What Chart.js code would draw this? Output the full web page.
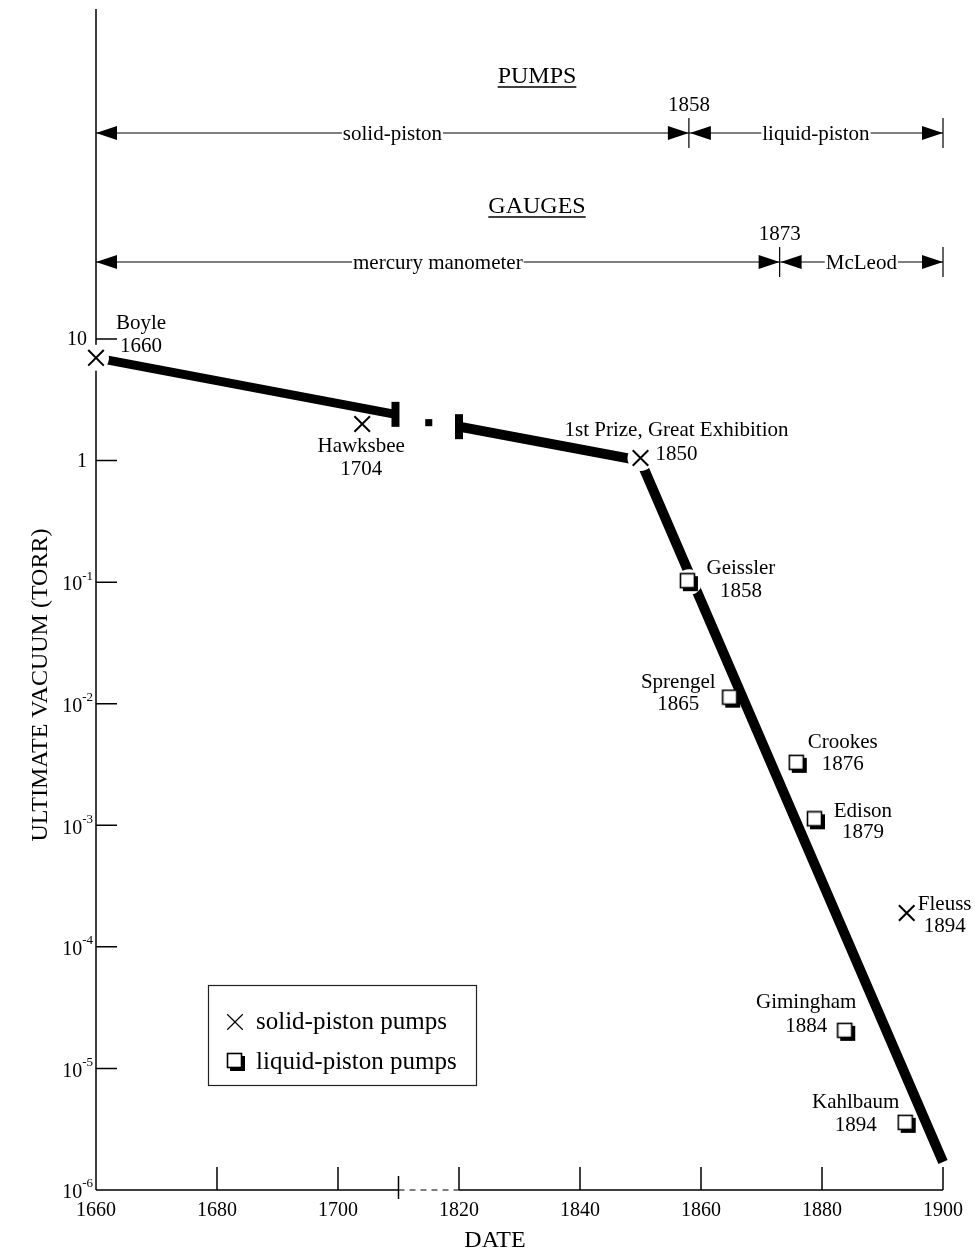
<!DOCTYPE html>
<html>
<head>
<meta charset="utf-8">
<script src="https://cdn.jsdelivr.net/npm/chart.js@4.4.0/dist/chart.umd.min.js"></script>
<style>
  body { margin: 0; background: #fff; }
  canvas { display: block; }
</style>
</head>
<body>
<canvas id="vacuumChart" width="975" height="1258"></canvas>
<script>
// Solid-piston pumps (crosses)
const solidNames = ['Boyle', 'Hawksbee', '1st Prize, Great Exhibition', 'Fleuss'];
const solidYears = [1660, 1704, 1850, 1894];
const solidVacuum = [7, 2.0, 1.05, 1.9e-4];

// Liquid-piston pumps (squares)
const liquidNames = ['Geissler', 'Sprengel', 'Crookes', 'Edison', 'Gimingham', 'Kahlbaum'];
const liquidYears = [1858, 1865, 1876, 1879, 1884, 1894];
const liquidVacuum = [0.1, 0.011, 3.2e-3, 1.1e-3, 2.0e-5, 3.5e-6];

// Thick trend line, broken across the time gap
const earlyYears = [1660, 1709.5];
const earlyVacuum = [7, 2.4];
const lateYears = [1820, 1850, 1900];
const lateVacuum = [1.9, 1.0, 1.7e-6];
const gapDotYear = [1815];
const gapDotVacuum = [2.05];

// Periods shown above the plot
const pumpPeriods = ['solid-piston', 'liquid-piston'];
const pumpBounds = [1660, 1858, 1900];
const gaugePeriods = ['mercury manometer', 'McLeod'];
const gaugeBounds = [1660, 1873, 1900];

// Axes
const tickYears = [1660, 1680, 1700, 1820, 1840, 1860, 1880, 1900];
const yTickValues = [10, 1, 1e-1, 1e-2, 1e-3, 1e-4, 1e-5, 1e-6];
const breakFrom = 1710;
const breakTo = 1810;

// where each point label sits relative to its marker: [dx, dy name, dy year]
const labelLayout = {
  'Boyle': [45, -34, -11],
  'Hawksbee': [-1, 23, 46],
  '1st Prize, Great Exhibition': [36, -28, -4],
  'Fleuss': [38, -8, 14],
  'Geissler': [52, -14, 9],
  'Sprengel': [-53, -16, 6],
  'Crookes': [45, -21, 1],
  'Edison': [47, -9, 12],
  'Gimingham': [-40, -29, -5],
  'Kahlbaum': [-51, -21, 2]
};

const FONT = '"Liberation Serif", "Times New Roman", serif';

// the axis skips the years between breakFrom and breakTo
function compress(year) {
  return year >= breakTo ? year - (breakTo - breakFrom) : year;
}

function toPoints(years, values) {
  return years.map((yr, i) => ({ x: compress(yr), y: values[i] }));
}

// open square with a drop shadow
function makeSquareIcon() {
  let c = document.createElement('canvas');
  c.width = 20;
  c.height = 20;
  let g = c.getContext('2d');
  g.fillStyle = '#000';
  g.fillRect(4, 4, 15, 15);
  g.fillStyle = '#fff';
  g.fillRect(1, 1, 15, 15);
  g.strokeStyle = '#000';
  g.lineWidth = 1.6;
  g.strokeRect(1.5, 1.5, 14, 14);
  return c;
}
const squareIcon = makeSquareIcon();

const crossStyle = { pointStyle: 'crossRot', radius: 11, borderWidth: 2, rotation: 0 };
const squareStyle = { pointStyle: squareIcon, radius: 10, borderWidth: 0, rotation: 0 };

function drawArrow(ctx, tipX, y, dir) {
  // dir = 1 points right, -1 points left
  ctx.beginPath();
  ctx.moveTo(tipX, y);
  ctx.lineTo(tipX - dir * 21, y - 7);
  ctx.lineTo(tipX - dir * 21, y + 7);
  ctx.closePath();
  ctx.fill();
}

function drawPeriodRow(ctx, chart, heading, headingY, names, bounds, y) {
  let xs = bounds.map(b => chart.scales.x.getPixelForValue(compress(b)));
  let headingX = 537;

  ctx.font = `24px ${FONT}`;
  ctx.textAlign = 'center';
  ctx.textBaseline = 'middle';
  ctx.fillText(heading, headingX, headingY);
  let hw = ctx.measureText(heading).width;
  ctx.lineWidth = 1.5;
  ctx.beginPath();
  ctx.moveTo(headingX - hw / 2, headingY + 10);
  ctx.lineTo(headingX + hw / 2, headingY + 10);
  ctx.stroke();

  ctx.lineWidth = 1.2;
  ctx.beginPath();
  ctx.moveTo(xs[0], y);
  ctx.lineTo(xs[2], y);
  ctx.moveTo(xs[1], y - 15);
  ctx.lineTo(xs[1], y + 15);
  ctx.moveTo(xs[2], y - 15);
  ctx.lineTo(xs[2], y + 15);
  ctx.stroke();

  drawArrow(ctx, xs[0], y, -1);
  drawArrow(ctx, xs[1], y, 1);
  drawArrow(ctx, xs[1] + 1, y, -1);
  drawArrow(ctx, xs[2], y, 1);

  ctx.font = `21px ${FONT}`;
  ctx.fillText(String(bounds[1]), xs[1], y - 28);

  names.forEach((name, i) => {
    let cx = (xs[i] + xs[i + 1]) / 2;
    let w = ctx.measureText(name).width;
    ctx.fillStyle = '#fff';
    ctx.fillRect(cx - w / 2 - 1, y - 3, w + 2, 6);
    ctx.fillStyle = '#000';
    ctx.fillText(name, cx, y + 1);
  });
}

const axesPlugin = {
  id: 'axesPlugin',
  beforeDatasetsDraw(chart) {
    let ctx = chart.ctx;
    let area = chart.chartArea;
    let xs = chart.scales.x;
    let ys = chart.scales.y;
    ctx.save();
    ctx.strokeStyle = '#000';
    ctx.lineWidth = 1.5;

    // y axis runs all the way up past the period rows
    ctx.beginPath();
    ctx.moveTo(area.left, 9);
    ctx.lineTo(area.left, area.bottom);
    yTickValues.forEach(v => {
      let y = ys.getPixelForValue(v);
      ctx.moveTo(area.left, y);
      ctx.lineTo(area.left + 21, y);
    });
    tickYears.forEach(yr => {
      let x = xs.getPixelForValue(compress(yr));
      ctx.moveTo(x, area.bottom);
      ctx.lineTo(x, area.bottom - 23);
    });
    let xBreak = xs.getPixelForValue(breakFrom);
    let xResume = xs.getPixelForValue(compress(1820));
    ctx.moveTo(xBreak, area.bottom - 14);
    ctx.lineTo(xBreak, area.bottom + 9);
    ctx.moveTo(area.left, area.bottom);
    ctx.lineTo(xBreak, area.bottom);
    ctx.moveTo(xResume, area.bottom);
    ctx.lineTo(area.right, area.bottom);
    ctx.stroke();

    ctx.setLineDash([6, 5]);
    ctx.lineWidth = 1.2;
    ctx.beginPath();
    ctx.moveTo(xBreak, area.bottom);
    ctx.lineTo(xResume, area.bottom);
    ctx.stroke();
    ctx.restore();
  },
  afterDatasetsDraw(chart) {
    let ctx = chart.ctx;
    let area = chart.chartArea;
    let xs = chart.scales.x;
    let ys = chart.scales.y;
    ctx.save();
    ctx.fillStyle = '#000';
    ctx.strokeStyle = '#000';
    ctx.textBaseline = 'middle';

    // x tick labels
    ctx.font = `20px ${FONT}`;
    ctx.textAlign = 'center';
    tickYears.forEach(yr => {
      ctx.fillText(String(yr), xs.getPixelForValue(compress(yr)), area.bottom + 21);
    });

    // y tick labels as powers of ten
    yTickValues.forEach(v => {
      let y = ys.getPixelForValue(v);
      let p = Math.round(Math.log10(v));
      if (p >= 0) {
        ctx.font = `20px ${FONT}`;
        ctx.textAlign = 'right';
        ctx.fillText(p === 0 ? '1' : '10', area.left - 9, y + 1);
      } else {
        let exp = String(p);
        ctx.font = `13px ${FONT}`;
        let ew = ctx.measureText(exp).width;
        ctx.textAlign = 'left';
        ctx.fillText(exp, area.left - 3 - ew, y - 6);
        ctx.font = `20px ${FONT}`;
        ctx.textAlign = 'right';
        ctx.fillText('10', area.left - 3 - ew, y + 3);
      }
    });

    // axis titles
    ctx.font = `24px ${FONT}`;
    ctx.textAlign = 'center';
    ctx.fillText('DATE', 495, 1241);
    ctx.save();
    ctx.translate(41, 685);
    ctx.rotate(-Math.PI / 2);
    ctx.fillText('ULTIMATE VACUUM (TORR)', 0, 0);
    ctx.restore();

    // point labels: name over year
    ctx.font = `21px ${FONT}`;
    let labelSets = [[solidNames, solidYears, solidVacuum], [liquidNames, liquidYears, liquidVacuum]];
    labelSets.forEach(([names, years, values]) => {
      names.forEach((name, i) => {
        let lay = labelLayout[name];
        let px = xs.getPixelForValue(compress(years[i]));
        let py = ys.getPixelForValue(values[i]);
        ctx.fillText(name, px + lay[0], py + lay[1]);
        ctx.fillText(String(years[i]), px + lay[0], py + lay[2]);
      });
    });

    // period rows at the top
    drawPeriodRow(ctx, chart, 'PUMPS', 77, pumpPeriods, pumpBounds, 133);
    drawPeriodRow(ctx, chart, 'GAUGES', 207, gaugePeriods, gaugeBounds, 262);

    // legend box
    ctx.lineWidth = 1.2;
    ctx.strokeStyle = '#222';
    ctx.strokeRect(208.5, 985.5, 268, 100);
    ctx.strokeStyle = '#000';
    ctx.fillStyle = '#000';
    Chart.helpers.drawPoint(ctx, crossStyle, 235, 1022);
    Chart.helpers.drawPoint(ctx, squareStyle, 236, 1062);
    ctx.font = `25px ${FONT}`;
    ctx.textAlign = 'left';
    ctx.fillText('solid-piston pumps', 256, 1022);
    ctx.fillText('liquid-piston pumps', 256, 1062);
    ctx.restore();
  }
};

const lineBase = {
  borderColor: '#000',
  borderCapStyle: 'butt',
  pointRadius: 0,
  tension: 0,
  fill: false,
  clip: false,
  order: 5
};

new Chart(document.getElementById('vacuumChart'), {
  type: 'line',
  data: {
    datasets: [
      Object.assign({ label: 'trend early', data: toPoints(earlyYears, earlyVacuum), borderWidth: 9 }, lineBase),
      Object.assign({ label: 'trend late', data: toPoints(lateYears, lateVacuum), borderWidth: 10 }, lineBase),
      {
        // white halo so the line and axis stop short of some markers
        label: 'halo',
        data: toPoints([solidYears[0], solidYears[2], liquidYears[0]], [solidVacuum[0], solidVacuum[2], liquidVacuum[0]]),
        showLine: false,
        pointRadius: 13,
        pointBackgroundColor: '#fff',
        pointBorderWidth: 0,
        clip: false,
        order: 4
      },
      {
        label: 'caps',
        data: [toPoints(earlyYears, earlyVacuum)[1], toPoints(lateYears, lateVacuum)[0]],
        showLine: false,
        pointStyle: 'line',
        pointRotation: 90,
        pointRadius: 12.5,
        pointBorderWidth: 8,
        pointBorderColor: '#000',
        clip: false,
        order: 3
      },
      {
        label: 'gap dot',
        data: toPoints(gapDotYear, gapDotVacuum),
        showLine: false,
        pointStyle: 'rect',
        pointRadius: 5,
        pointBackgroundColor: '#000',
        pointBorderWidth: 0,
        clip: false,
        order: 3
      },
      {
        label: 'solid-piston pumps',
        data: toPoints(solidYears, solidVacuum),
        showLine: false,
        pointStyle: 'crossRot',
        pointRadius: 11,
        pointBorderWidth: 2,
        pointBorderColor: '#000',
        clip: false,
        order: 1
      },
      {
        label: 'liquid-piston pumps',
        data: toPoints(liquidYears, liquidVacuum),
        showLine: false,
        pointStyle: squareIcon,
        pointRadius: 10,
        clip: false,
        order: 1
      }
    ]
  },
  options: {
    responsive: false,
    devicePixelRatio: 1,
    animation: false,
    events: [],
    layout: { padding: { left: 96, right: 32, top: 339, bottom: 68 } },
    scales: {
      x: { type: 'linear', min: 1660, max: 1800, display: false },
      y: { type: 'logarithmic', min: 1e-6, max: 10, display: false }
    },
    plugins: {
      legend: { display: false },
      tooltip: { enabled: false }
    }
  },
  plugins: [axesPlugin]
});
</script>
</body>
</html>
